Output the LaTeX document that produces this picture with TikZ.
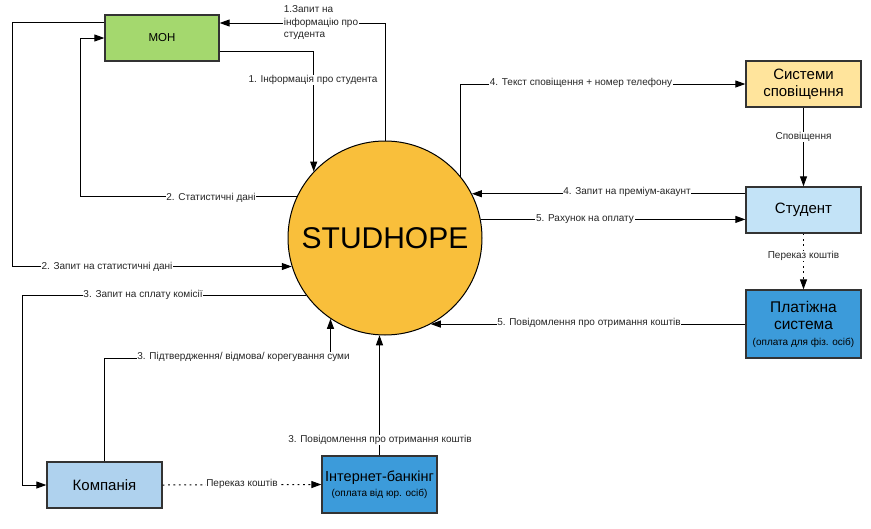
\documentclass[tikz,border=0pt]{standalone}
\usepackage{fontspec}
\setmainfont{Liberation Sans}
\usetikzlibrary{arrows.meta,calc}
\definecolor{mongreen}{HTML}{A4D86E}
\definecolor{sunyellow}{HTML}{F9BF3B}
\definecolor{paleyellow}{HTML}{FFE49C}
\definecolor{paleblue}{HTML}{C3E3F7}
\definecolor{midblue}{HTML}{AFD2EE}
\definecolor{deepblue}{HTML}{3C9BDA}
\definecolor{edgegray}{HTML}{333333}
\tikzset{
  box/.style={draw=edgegray, line width=1.3pt, inner sep=1pt, minimum width=115pt, align=center, font=\fontsize{15}{17}\selectfont},
  arr/.style={draw=black, line width=1pt, -{Triangle[length=10pt,width=7pt]}},
  dotline/.style={dash pattern=on 1.8pt off 3.6pt},
  lbl/.style={fill=white, inner sep=0.6pt, font=\fontsize{10}{12.5}\selectfont, text=black!85}
}
\begin{document}
\begin{tikzpicture}[x=1pt,y=-1pt]
\useasboundingbox (0,0) rectangle (871,528);

% nodes
\node[box, fill=mongreen, minimum width=114pt, minimum height=46pt, font=\fontsize{11.5}{13}\selectfont] (M) at (162,38) {МОН};
\node[circle, draw=black, line width=1pt, fill=sunyellow, minimum size=194pt, inner sep=0pt, font=\fontsize{30}{32}\selectfont] (S) at (385,238) {STUDHOPE};
\node[box, fill=paleyellow, minimum height=46pt] (SYS) at (803.5,84) {Системи\\сповіщення};
\node[box, fill=paleblue, minimum height=46pt] (STU) at (803.5,210) {Студент};
\node[box, fill=deepblue, minimum height=68pt, font=\fontsize{15.5}{17.5}\selectfont] (PAY) at (803.5,324) {Платіжна\\система\\[-2pt]{\fontsize{10}{12}\selectfont (оплата для фіз. осіб)}};
\node[box, fill=midblue, minimum height=46pt] (KOM) at (104.5,485) {Компанія};
\node[box, fill=deepblue, minimum height=57pt, font=\fontsize{14.5}{16}\selectfont] (BANK) at (379.5,484.5) {Інтернет-банкінг\\[-1pt]{\fontsize{10}{12}\selectfont (оплата від юр. осіб)}};

% connectors
\draw[arr] (S.north) |- ([yshift=15pt]M.east);
\draw[arr] ([yshift=-13pt]M.east) -| (S.137.9);
\draw[arr] (S.155.7) -| ([xshift=-24pt]M.west) -- (M.west);
\draw[arr] ([yshift=16pt]M.west) -- ++(-92,0) |- (S.197.4);
\draw[arr] (S.39.4) |- (SYS.west);
\draw[arr] (SYS.south) -- (STU.north);
\draw[arr] (S.27.6 -| STU.west) -- (S.27.6);
\draw[arr] (S.11.3) -- (S.11.3 -| STU.west);
\draw[arr, dotline] (STU.south) -- (PAY.north);
\draw[arr] (S.-62.4 -| PAY.west) -- (S.-62.4);
\draw[arr] (S.216) -| ([xshift=-24pt]KOM.west) -- (KOM.west);
\draw[arr] (KOM.north) |- ($(S.236.1)+(0,40)$) -- (S.236.1);
\draw[arr] (BANK.north) -- (BANK.north |- S.266.5);
\draw[arr, dotline] (KOM.east) -- (BANK.west);

% labels
\node[lbl, align=left, anchor=west] (l1) at (283,23) {1.Запит на\\інформацію про\\ студента};
\node[lbl] (l2) at (313,80) {1. Інформація про студента};
\node[lbl] (l3) at (211,198) {2. Статистичні дані};
\node[lbl] (l4) at (107,267) {2. Запит на статистичні дані};
\node[lbl] (l5) at (581,83) {4. Текст сповіщення + номер телефону};
\node[lbl] (l6) at (803.5,137) {Сповіщення};
\node[lbl] (l7) at (627,192) {4. Запит на преміум-акаунт};
\node[lbl] (l8) at (585,219) {5. Рахунок на оплату};
\node[lbl] (l9) at (803.5,256) {Переказ коштів};
\node[lbl] (l10) at (589,323) {5. Повідомлення про отримання коштів};
\node[lbl] (l11) at (143,295) {3. Запит на сплату комісії};
\node[lbl] (l12) at (243.5,357) {3. Підтвердження/ відмова/ корегування суми};
\node[lbl] (l13) at (380,440) {3. Повідомлення про отримання коштів};
\node[lbl] (l14) at (242,484) {Переказ коштів};
\end{tikzpicture}
\end{document}
